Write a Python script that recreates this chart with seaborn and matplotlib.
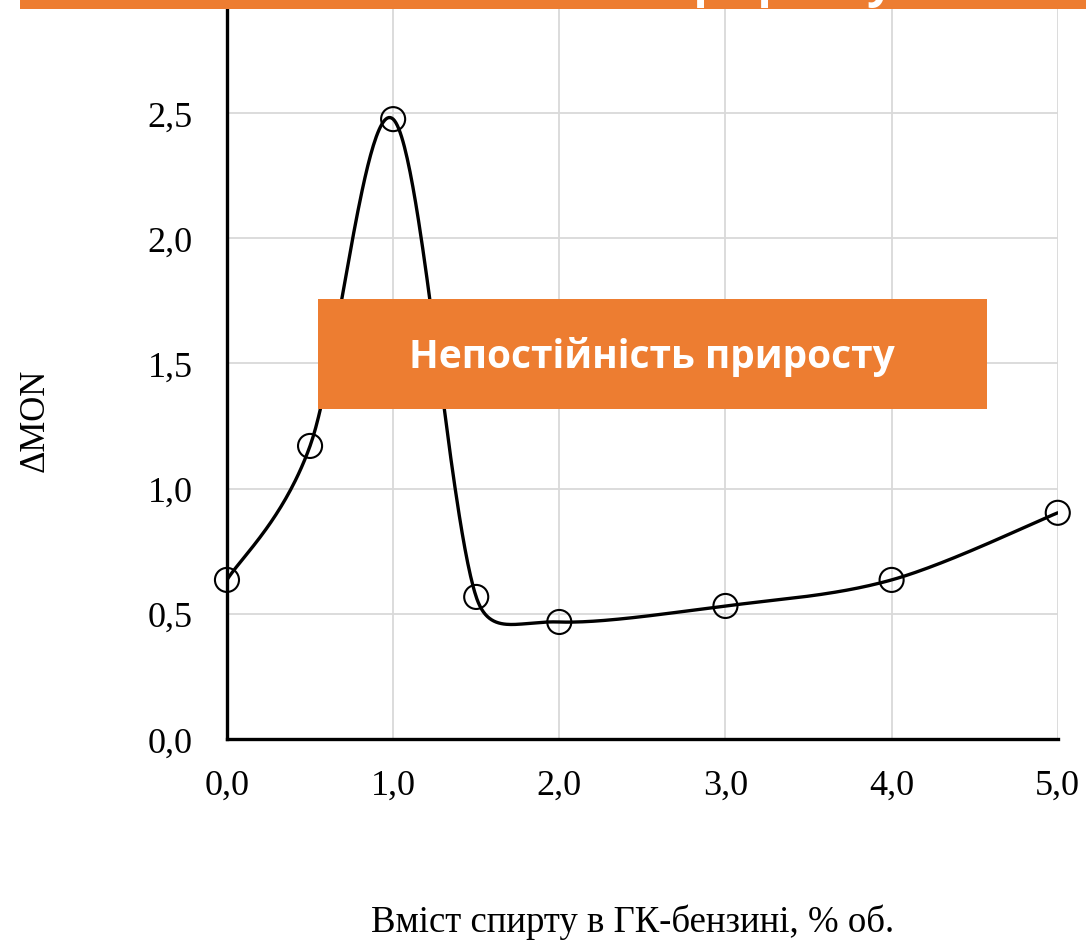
import numpy as np
import pandas as pd
import seaborn as sns
import matplotlib.pyplot as plt
from matplotlib.patches import Rectangle

# дані
alcohol = [0.0, 0.5, 1.0, 1.5, 2.0, 3.0, 4.0, 5.0]
delta_mon = [0.635, 1.17, 2.475, 0.567, 0.467, 0.531, 0.635, 0.903]
x_ticks = [0, 1, 2, 3, 4, 5]
x_labels = ['0,0', '1,0', '2,0', '3,0', '4,0', '5,0']
y_ticks = [0.0, 0.5, 1.0, 1.5, 2.0, 2.5]
y_labels = ['0,0', '0,5', '1,0', '1,5', '2,0', '2,5']
box_text = 'Непостійність приросту'
top_text = 'Стабільність приросту'

ORANGE = '#ED7D31'
PX_X, PX_Y = 166.2, 250.4  # пікселів на одиницю осі

sns.set_style('whitegrid', {'grid.color': '#d9d9d9', 'axes.edgecolor': 'black',
                            'text.color': 'black', 'xtick.color': 'black',
                            'ytick.color': 'black', 'axes.labelcolor': 'black'})
plt.rcParams['font.family'] = ['Liberation Serif', 'DejaVu Serif']


def excel_smooth(xs, ys, n=60):
    # згладжена лінія як в Excel: Bezier, контрольні точки обмежені половиною сегмента
    p = np.column_stack([np.array(xs) * PX_X, np.array(ys) * PX_Y])
    ext = np.vstack([p[0], p, p[-1]])
    out = []
    t = np.linspace(0, 1, n)[:, None]
    for i in range(len(p) - 1):
        p0, p1, p2, p3 = ext[i], ext[i + 1], ext[i + 2], ext[i + 3]
        d12 = np.linalg.norm(p2 - p1)
        d02 = np.linalg.norm(p2 - p0)
        d13 = np.linalg.norm(p3 - p1)
        f1 = 1 / 6 if d02 / 6 <= d12 / 2 else d12 / (2 * d02)
        f2 = 1 / 6 if d13 / 6 <= d12 / 2 else d12 / (2 * d13)
        c1 = p1 + (p2 - p0) * f1
        c2 = p2 - (p3 - p1) * f2
        seg = ((1 - t) ** 3) * p1 + 3 * ((1 - t) ** 2) * t * c1 + 3 * (1 - t) * t ** 2 * c2 + t ** 3 * p2
        out.append(seg if i == 0 else seg[1:])
    res = np.vstack(out)
    return res[:, 0] / PX_X, res[:, 1] / PX_Y


cx, cy = excel_smooth(alcohol, delta_mon)
df_curve = pd.DataFrame({'x': cx, 'y': cy})
df = pd.DataFrame({'x': alcohol, 'y': delta_mon})

fig = plt.figure(figsize=(10.86, 9.45), dpi=100)
ax = fig.add_axes([0.209, 0.217, 0.765, 0.795])

sns.lineplot(data=df_curve, x='x', y='y', sort=False, color='black', lw=2.4, ax=ax, zorder=3)
sns.scatterplot(data=df, x='x', y='y', s=300, marker='o', facecolor='none',
                edgecolor='black', linewidth=1.5, ax=ax, zorder=4, clip_on=False)

ax.set_xlim(0, 5)
ax.set_ylim(0, 3.0)
ax.set_xticks(x_ticks)
ax.set_xticklabels(x_labels, fontsize=26)
ax.set_yticks(y_ticks + [3.0])
ax.set_yticklabels(y_labels + [''], fontsize=26)
ax.tick_params(axis='x', pad=18)
ax.tick_params(axis='y', pad=21)
ax.grid(True, lw=1.3)
for s in ['top', 'right']:
    ax.spines[s].set_visible(False)
for s in ['left', 'bottom']:
    ax.spines[s].set_linewidth(2.4)
    ax.spines[s].set_zorder(5)

ax.set_xlabel('Вміст спирту в ГК-бензині, % об.', fontsize=26.5)
ax.xaxis.set_label_coords(0.4886, -0.2197)
ax.set_ylabel('ΔMON', fontsize=25)
ax.yaxis.set_label_coords(-0.2106, 0.426)

# помаранчевий блок з підписом
ax.add_patch(Rectangle((0.548, 1.318), 4.025, 0.44, facecolor=ORANGE, edgecolor='none', zorder=6))
ax.text(2.557, 1.53, box_text, color='white', fontsize=28, fontweight='bold',
        family='Open Sans', ha='center', va='center', zorder=7)

# верхня смуга (обрізана)
fig.patches.append(Rectangle((0.018, 0.9894), 1.0, 0.05, transform=fig.transFigure,
                             facecolor=ORANGE, edgecolor='none', zorder=10))
fig.text(0.567, 1.003, top_text, color='white', fontsize=34, fontweight='bold',
         family='Open Sans', ha='center', va='baseline', zorder=11)

fig.savefig('out.png', dpi=100)
